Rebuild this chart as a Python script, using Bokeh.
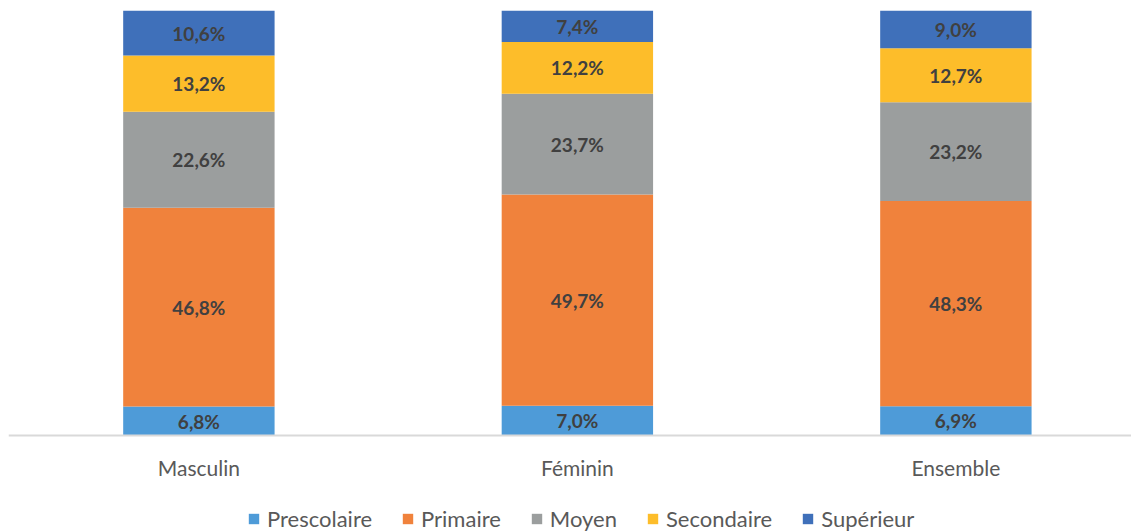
import numpy as np
from bokeh.plotting import figure
from bokeh.models import ColumnDataSource, Range1d, Legend, LegendItem, Span
from bokeh.core.properties import value
from bokeh.embed import file_html
from bokeh.resources import INLINE

categories = ["Masculin", "Féminin", "Ensemble"]
series = ["Prescolaire", "Primaire", "Moyen", "Secondaire", "Supérieur"]
prescolaire = [6.8, 7.0, 6.9]
primaire = [46.8, 49.7, 48.3]
moyen = [22.6, 23.7, 23.2]
secondaire = [13.2, 12.2, 12.7]
superieur = [10.6, 7.4, 9.0]
colors = ["#4E9BD8", "#F0823C", "#9B9E9E", "#FDBD2A", "#3F70BA"]

FONT = "Lato"

xs = list(range(len(categories)))
data = {"x": xs}
vals = [prescolaire, primaire, moyen, secondaire, superieur]
for s, v in zip(series, vals):
    data[s] = v
src = ColumnDataSource(data)

p = figure(frame_width=1123, frame_height=522, output_backend="svg", toolbar_location=None,
           x_range=Range1d(-0.503, 2.464), y_range=Range1d(-97 / 4.25, 100),
           min_border_top=10, min_border_left=8, min_border_right=0, min_border_bottom=0,
           x_axis_type=None, y_axis_type=None)

renderers = p.vbar_stack(series, x="x", width=0.4, source=src, color=colors, line_color=None)

# baseline axis
p.add_layout(Span(location=0, dimension="width", line_color="#D9D9D9", line_width=2))

# data labels
arr = np.array(vals)
cum = np.cumsum(arr, axis=0)
centers = cum - arr / 2
lx, ly, lt = [], [], []
for i in range(arr.shape[0]):
    for j in range(arr.shape[1]):
        lx.append(xs[j]); ly.append(centers[i, j])
        lt.append(f"{arr[i, j]:.1f}".replace(".", ",") + "%")
p.text(x=lx, y=ly, text=lt, text_align="center", text_baseline="middle",
       text_font=value(FONT), text_font_style="bold", text_font_size="19px",
       text_color="#404040")

# category labels
p.text(x=xs, y=[0] * len(xs), text=categories, y_offset=32, text_align="center",
       text_baseline="middle", text_font=value(FONT), text_font_size="21px",
       text_color="#595959")

p.grid.visible = False
p.outline_line_color = None

items = [LegendItem(label=s, renderers=[r]) for s, r in zip(series, renderers)]
legend = Legend(items=items, orientation="horizontal", location=(239, 0),
                label_text_font=FONT, label_text_font_size="22px", label_text_color="#595959",
                glyph_width=13, glyph_height=13, label_standoff=7, spacing=29,
                border_line_color=None, background_fill_alpha=0, padding=0, margin=0)
p.add_layout(legend, "center")

open("out.html", "w").write(file_html(p, INLINE))
